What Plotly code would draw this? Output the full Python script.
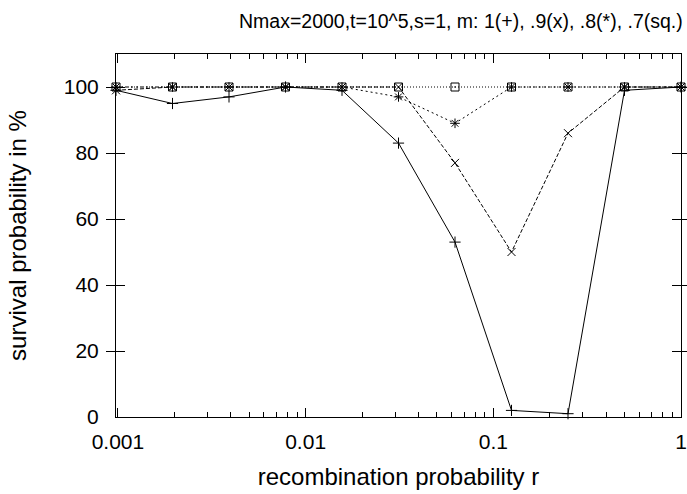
import plotly.graph_objects as go
import math

# recombination probability r (powers of two)
r_values = [1/1024, 1/512, 1/256, 1/128, 1/64, 1/32, 1/16, 1/8, 1/4, 1/2, 1.0]

surv_m10 = [99, 95, 97, 100, 99, 83, 53, 2, 1, 99, 100]            # m=1 (+)
surv_m09 = [99, 100, 100, 100, 100, 100, 77, 50, 86, 100, 100]     # m=.9 (x)
surv_m08 = [100, 100, 100, 100, 100, 97, 89, 100, 100, 100, 100]   # m=.8 (*)
surv_m07 = [100, 100, 100, 100, 100, 100, 100, 100, 100, 100, 100] # m=.7 (sq.)

x_tickvals = [0.001, 0.01, 0.1, 1]
x_ticktext = ["0.001", "0.01", "0.1", "1"]
x_minor_vals = [k * 10**e for e in (-3, -2, -1) for k in range(2, 10)]
y_tickvals = [0, 20, 40, 60, 80, 100]

title_text = "Nmax=2000,t=10^5,s=1, m: 1(+), .9(x), .8(*), .7(sq.)"
x_title = "recombination probability r"
y_title = "survival probability in %"

FONT = "Liberation Sans, Arial, Helvetica, sans-serif"
XRANGE = [math.log10(r_values[0]), math.log10(r_values[-1])]

series = [
    (surv_m10, "solid", "cross-thin", 8),
    (surv_m09, "4px,2px", "x-thin", 8),
    (surv_m08, "2px,3px", "asterisk", 8),
    (surv_m07, "1px,2px", "square-open-dot", 8),
]

fig = go.Figure()
# empty trace on the helper axis that carries the minor ticks
fig.add_trace(go.Scatter(x=[], y=[], xaxis="x2", yaxis="y", showlegend=False,
                         hoverinfo="skip"))
for ys, dash, sym, size in series:
    fig.add_trace(go.Scatter(
        x=r_values, y=ys, mode="lines+markers",
        line=dict(color="black", width=1, dash=dash),
        marker=dict(symbol=sym, size=size, color="black",
                    line=dict(color="black", width=1)),
        cliponaxis=False, showlegend=False,
    ))

fig.update_layout(
    width=687, height=494,
    margin=dict(l=116, r=6, t=54, b=77, autoexpand=False),
    paper_bgcolor="white", plot_bgcolor="white",
    font=dict(family=FONT, size=20, color="black"),
    annotations=[dict(text=title_text, xref="paper", yref="paper",
                      x=0.61, y=1, yshift=33, xanchor="center", yanchor="middle",
                      showarrow=False, font=dict(size=19.5, family=FONT))],
    xaxis=dict(
        type="log", range=XRANGE,
        tickvals=x_tickvals, ticktext=x_ticktext,
        ticks="inside", ticklen=9, tickwidth=1, tickcolor="black",
        showline=True, linecolor="black", linewidth=1, mirror="allticks",
        showgrid=False, zeroline=False, automargin=False,
        tickfont=dict(size=21), ticklabelstandoff=6, ticklabeloverflow="allow",
        title=dict(text=x_title, font=dict(size=24), standoff=15),
    ),
    xaxis2=dict(
        type="log", range=XRANGE, overlaying="x", anchor="y", side="bottom",
        tickvals=x_minor_vals, showticklabels=False,
        ticks="inside", ticklen=5, tickwidth=1, tickcolor="black",
        showline=True, linecolor="black", linewidth=1, mirror="allticks",
        showgrid=False, zeroline=False, automargin=False,
    ),
    yaxis=dict(
        range=[0, 110], tickvals=y_tickvals,
        ticks="inside", ticklen=9, tickwidth=1, tickcolor="black",
        showline=True, linecolor="black", linewidth=1, mirror="allticks",
        showgrid=False, zeroline=False, automargin=False,
        tickfont=dict(size=21), ticklabelstandoff=12,
        title=dict(text=y_title, font=dict(size=24), standoff=30),
    ),
)

fig.write_html("out.html", config={"displayModeBar": False},
               post_script="document.body.style.margin='0px';")
